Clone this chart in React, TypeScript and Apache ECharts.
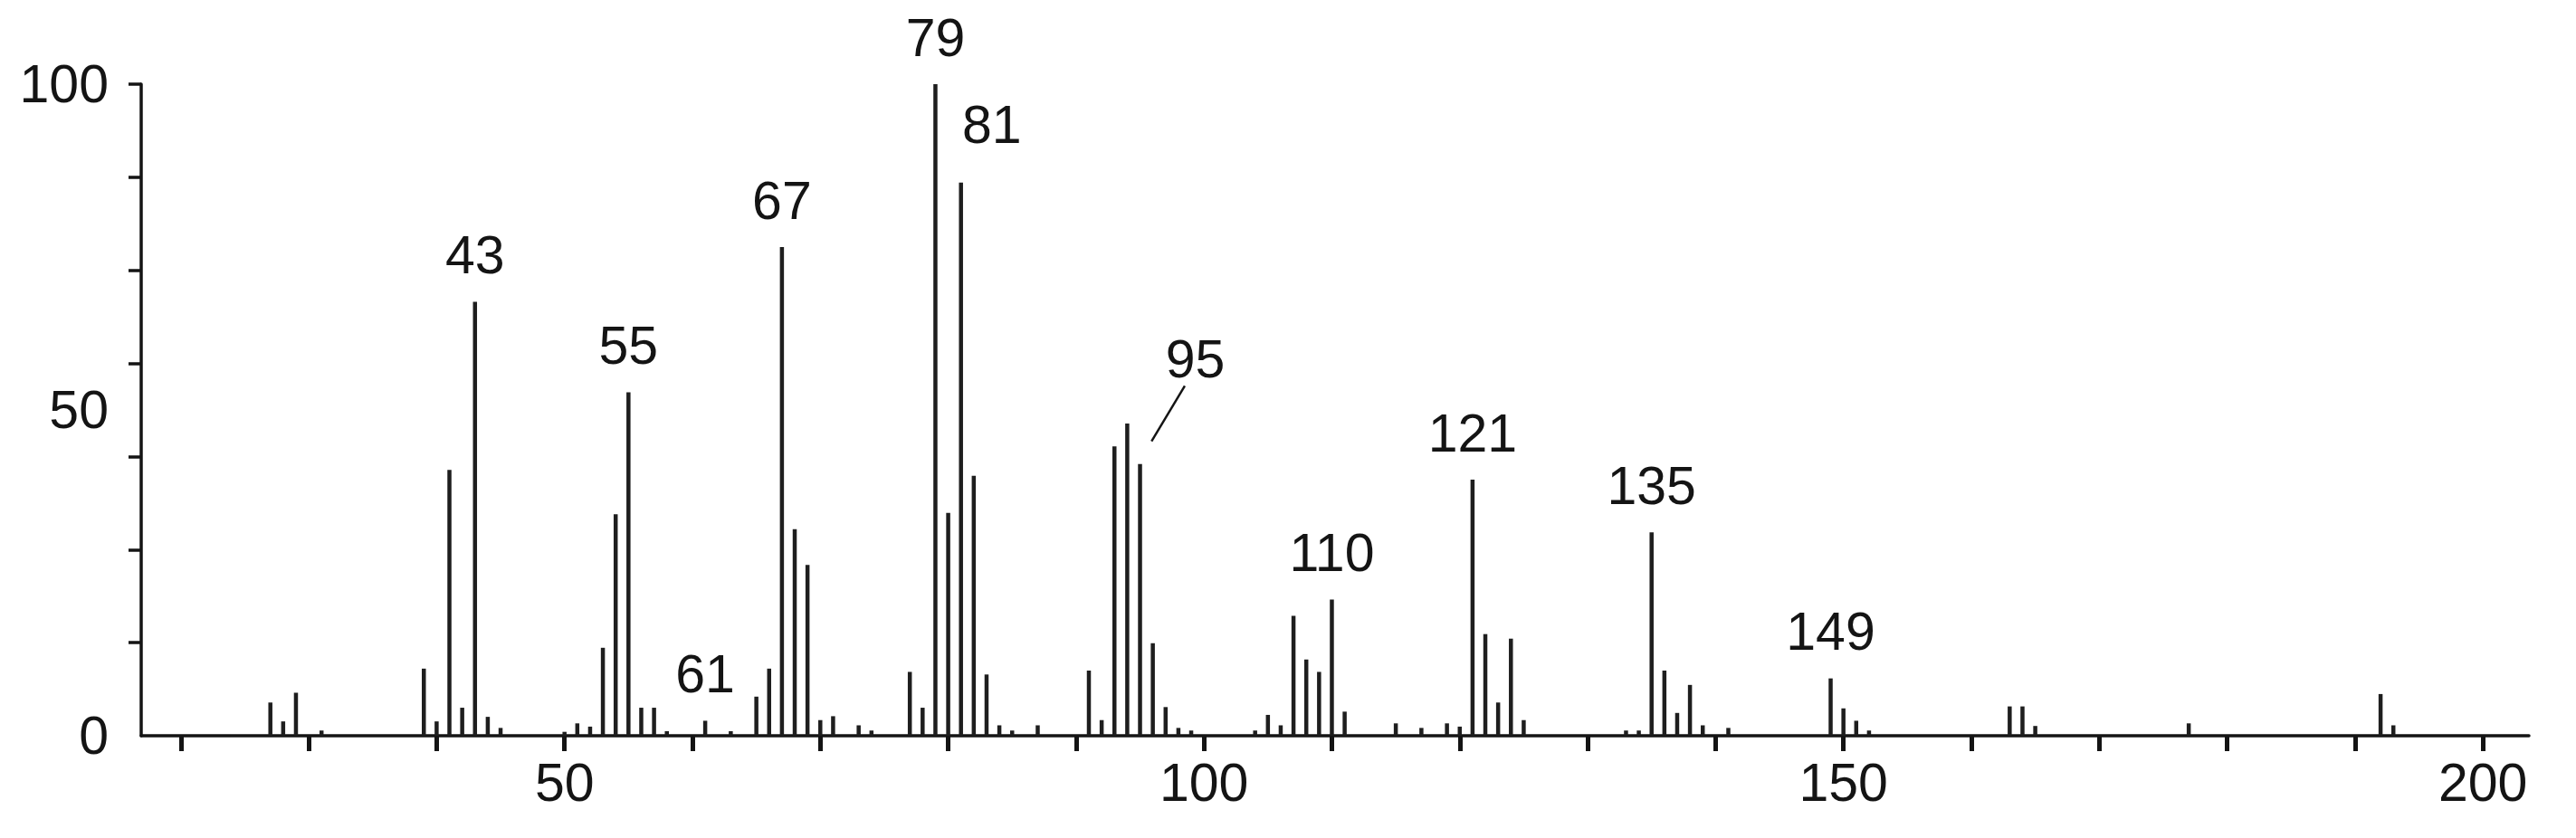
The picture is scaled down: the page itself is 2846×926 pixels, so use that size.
import React, { useEffect, useRef } from "react";
import * as echarts from "echarts";

// m/z values of the peaks
const mzValues: number[] = [
  27, 28, 29, 31, 39, 40, 41, 42, 43, 44, 45, 50, 51, 52, 53, 54, 55, 56, 57, 58,
  61, 63, 65, 66, 67, 68, 69, 70, 71, 73, 74, 77, 78, 79, 80, 81, 82, 83, 84, 85,
  87, 91, 92, 93, 94, 95, 96, 97, 98, 99, 104, 105, 106, 107, 108, 109, 110, 111,
  115, 117, 119, 120, 121, 122, 123, 124, 125, 133, 134, 135, 136, 137, 138, 139,
  141, 149, 150, 151, 152, 163, 164, 165, 177, 192, 193,
];
// relative intensities (%)
const intensities: number[] = [
  5.1, 2.2, 6.6, 0.8, 10.3, 2.2, 40.8, 4.3, 66.6, 2.9, 1.2, 0.6, 1.9, 1.4, 13.5, 34, 52.7, 4.3, 4.3, 0.7,
  2.3, 0.7, 6, 10.3, 75, 31.7, 26.2, 2.4, 3, 1.6, 0.8, 9.8, 4.3, 100, 34.2, 84.9, 39.9, 9.4, 1.6, 0.8,
  1.6, 10, 2.4, 44.4, 47.9, 41.7, 14.2, 4.4, 1.2, 0.8, 0.8, 3.2, 1.6, 18.4, 11.7, 9.8, 20.9, 3.7,
  1.9, 1.2, 1.9, 1.4, 39.3, 15.6, 5.1, 14.9, 2.4, 0.8, 0.8, 31.2, 10, 3.5, 7.8, 1.6,
  1.2, 8.8, 4.2, 2.3, 0.8, 4.5, 4.5, 1.5, 1.9, 6.4, 1.6,
];
// peaks carrying an m/z label
const labeledPeaks: number[] = [43, 55, 61, 67, 79, 81, 95, 110, 121, 135, 149];
// peak whose label is connected with a leader line
const leaderPeak = 95;

const xTickValues: number[] = [20, 30, 40, 50, 60, 70, 80, 90, 100, 110, 120, 130, 140, 150, 160, 170, 180, 190, 200];
const xLabelValues: number[] = [50, 100, 150, 200];
const yTickValues: number[] = [14.2857, 28.5714, 42.8571, 57.1429, 71.4286, 85.7143, 100];
const yLabelValues: number[] = [0, 50, 100];

// label placement (styling, not data)
const labelOffsets: Record<number, [number, number]> = {
  81: [34, -12],
  95: [61, -64],
};

const FONT = "'Liberation Sans', Arial, Helvetica, sans-serif";
const INK = "#141414";

export default function App() {
  const ref = useRef<HTMLDivElement>(null);

  useEffect(() => {
    document.body.style.margin = "0";
    if (!ref.current) return;
    const chart = echarts.init(ref.current, undefined, { renderer: "svg" });

    const data = mzValues.map((mz, i) => {
      const v = intensities[i];
      if (labeledPeaks.includes(mz)) {
        return {
          value: [mz, v],
          label: { show: true, offset: labelOffsets[mz] || [0, 0] },
        };
      }
      return { value: [mz, v] };
    });

    const leaderIdx = mzValues.indexOf(leaderPeak);
    const leaderVal = intensities[leaderIdx];

    chart.setOption({
      animation: false,
      backgroundColor: "#ffffff",
      grid: { left: 156, top: 93, width: 2638, height: 720, containLabel: false },
      xAxis: {
        type: "value",
        min: 16.9,
        max: 203.6,
        splitLine: { show: false },
        axisLine: { show: true, onZero: false, lineStyle: { color: INK, width: 3.5 } },
        axisTick: {
          show: true,
          inside: false,
          length: 17,
          customValues: xTickValues,
          lineStyle: { color: INK, width: 5 },
        },
        axisLabel: {
          show: true,
          customValues: xLabelValues,
          fontSize: 59,
          fontFamily: FONT,
          color: INK,
          margin: 22,
        },
      },
      yAxis: {
        type: "value",
        min: 0,
        max: 100,
        splitLine: { show: false },
        axisLine: { show: true, lineStyle: { color: INK, width: 3.5 } },
        axisTick: {
          show: true,
          inside: false,
          length: 14,
          customValues: yTickValues,
          lineStyle: { color: INK, width: 3.5 },
        },
        axisLabel: {
          show: true,
          customValues: yLabelValues,
          fontSize: 59,
          fontFamily: FONT,
          color: INK,
          margin: 36,
        },
      },
      series: [
        {
          type: "bar",
          data,
          barWidth: 4.5,
          itemStyle: { color: "#1e1e1e" },
          label: {
            show: false,
            position: "top",
            distance: 22,
            fontSize: 59,
            fontFamily: FONT,
            color: INK,
            formatter: (p: any) => String(p.value[0]),
          },
          markLine: {
            silent: true,
            symbol: ["none", "none"],
            label: { show: false },
            lineStyle: { color: INK, width: 2.5, type: "solid" },
            data: [
              [
                { coord: [leaderPeak + 0.9, leaderVal + 3.5] },
                { coord: [leaderPeak + 3.5, leaderVal + 12] },
              ],
            ],
          },
        },
      ],
    });

    return () => chart.dispose();
  }, []);

  return <div ref={ref} style={{ width: 2846, height: 926 }} />;
}
